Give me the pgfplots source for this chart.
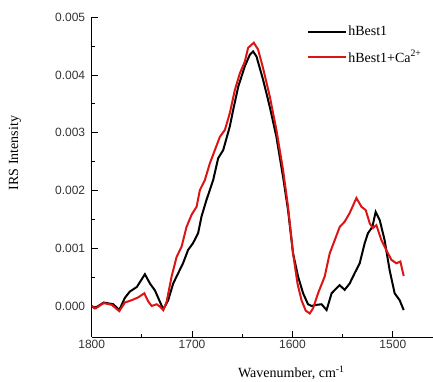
\documentclass[border=0pt]{standalone}
\usepackage{fontspec}
\setmainfont{Liberation Serif}
\newfontfamily\arial{Liberation Sans}
\usepackage{pgfplots}
\pgfplotsset{compat=1.18}
\definecolor{myred}{RGB}{220,20,20}
\begin{document}
\begin{tikzpicture}
\path[use as bounding box] (-91.7pt,-45pt) rectangle (341.3pt,337pt);
\begin{axis}[
  at={(0pt,0pt)}, anchor=south west,
  scale only axis, width=341.3pt, height=319.7pt,
  x dir=reverse, xmin=1460, xmax=1800, ymin=-0.000537, ymax=0.005,
  axis x line=bottom, axis y line=left,
  axis line style={-, line width=0.9pt},
  every outer x axis line/.append style={-},
  every outer y axis line/.append style={-},
  tick align=inside,
  xtick={1500,1600,1700,1800}, minor xtick={1550,1650,1750},
  ytick={0,0.001,0.002,0.003,0.004,0.005},
  minor ytick={0.0005,0.0015,0.0025,0.0035,0.0045},
  major tick length=6pt, minor tick length=3pt,
  every tick/.style={black, line width=0.9pt},
  tick label style={font=\arial\fontsize{12}{14}\selectfont, text=black!80},
  /pgf/number format/assume math mode=true,
  xticklabel style={/pgf/number format/1000 sep={}},
  scaled y ticks=false,
  yticklabel style={xshift=-3pt, /pgf/number format/fixed, /pgf/number format/fixed zerofill, /pgf/number format/precision=3},
  xlabel={Wavenumber, cm\textsuperscript{-1}},
  xlabel style={at={(axis description cs:0.585,0)}, anchor=base, yshift=-41pt, font=\fontsize{14}{16}\selectfont},
  ylabel={IRS Intensity},
  ylabel style={at={(axis description cs:-0.2247,0.5755)}, anchor=center, font=\fontsize{14}{16}\selectfont},
  legend cell align=left,
  legend image code/.code={\draw[#1, line width=2pt] (0pt,0pt) -- (38pt,0pt);},
  legend style={draw=none, fill=none, at={(axis description cs:0.631,0.9135)}, anchor=west, inner sep=0pt, row sep=11pt, font=\fontsize{14}{16}\selectfont, nodes={inner sep=1pt}},
]
\addplot[black, line width=2pt] coordinates {
(1800,0) (1797,-0.00004) (1788,0.00006) (1778.5,0.00003) (1772.5,-0.00007)
(1767,0.00014) (1762,0.00025) (1755,0.00033) (1747,0.00055) (1742,0.00039)
(1737,0.00027) (1732.7,0.0001) (1728.7,-0.00006) (1723.8,0.0001) (1718.8,0.00039)
(1713.8,0.00057) (1709,0.00074) (1704,0.00097) (1699,0.00109) (1694,0.00126)
(1690.6,0.00155) (1685.6,0.00184) (1679,0.00218) (1674,0.00256) (1669,0.0027)
(1662.4,0.00311) (1659,0.0034) (1654,0.0038) (1647.5,0.00415) (1642.5,0.00435)
(1639.2,0.00441) (1635.8,0.00432) (1629.3,0.00392) (1622.6,0.00345) (1616,0.00293)
(1609.4,0.00224) (1604.4,0.00166) (1599.4,0.00091) (1594.4,0.00051) (1589.4,0.00022)
(1584.5,0.00003) (1581,0) (1576,0.00002) (1571,0.00003) (1566,-0.00007)
(1561,0.00022) (1556,0.00031) (1553,0.00036) (1548,0.00028) (1543,0.00039)
(1538,0.00057) (1533,0.00074) (1528,0.00109) (1524.8,0.00126) (1520.4,0.00137)
(1517.1,0.00163) (1513.1,0.00149) (1508.2,0.00114) (1503.2,0.00062) (1498.2,0.00022)
(1493.2,0.0001) (1489.2,-0.00007)
};
\addlegendentry{hBest1}
\addplot[myred, line width=2pt] coordinates {
(1800,0) (1796,-0.00004) (1788,0.00005) (1780,0.00002) (1772.5,-0.00009)
(1767,0.00006) (1760.2,0.0001) (1753.6,0.00015) (1747.6,0.00022) (1743.7,0.00008)
(1740.3,0) (1735.3,0.00003) (1732,-0.00001) (1728.7,-0.00007) (1725.4,0.00007)
(1720.4,0.00051) (1715.4,0.00085) (1710.4,0.00103) (1705.5,0.00137) (1700.5,0.00158)
(1695.5,0.00172) (1692.2,0.00201) (1687.3,0.00218) (1682.3,0.00247) (1677.3,0.0027)
(1672.3,0.00293) (1667.3,0.00305) (1662.4,0.00334) (1657.4,0.00374) (1652.4,0.00403)
(1647.5,0.00423) (1644.2,0.00447) (1638.5,0.00456) (1634.2,0.00444) (1629.3,0.00412)
(1622.6,0.00363) (1616,0.00305) (1609.4,0.00236) (1604.4,0.00172) (1599.4,0.00091)
(1595,0.00039) (1591,0.0001) (1586.8,-0.00008) (1582.8,-0.00013) (1579.5,-0.00004)
(1574.5,0.00022) (1567.9,0.00051) (1562.9,0.00091) (1557.9,0.00114) (1552.9,0.00137)
(1548,0.00146) (1543,0.00161) (1536.3,0.00187) (1531.3,0.00172) (1527,0.00166)
(1523,0.00143) (1519.8,0.00135) (1516.4,0.0014) (1511.4,0.00114) (1506.5,0.00097)
(1501.5,0.0008) (1496.5,0.00074) (1492.5,0.00077) (1489.2,0.00052)
};
\addlegendentry{hBest1+Ca\textsuperscript{2+}}
\end{axis}
\end{tikzpicture}
\end{document}
